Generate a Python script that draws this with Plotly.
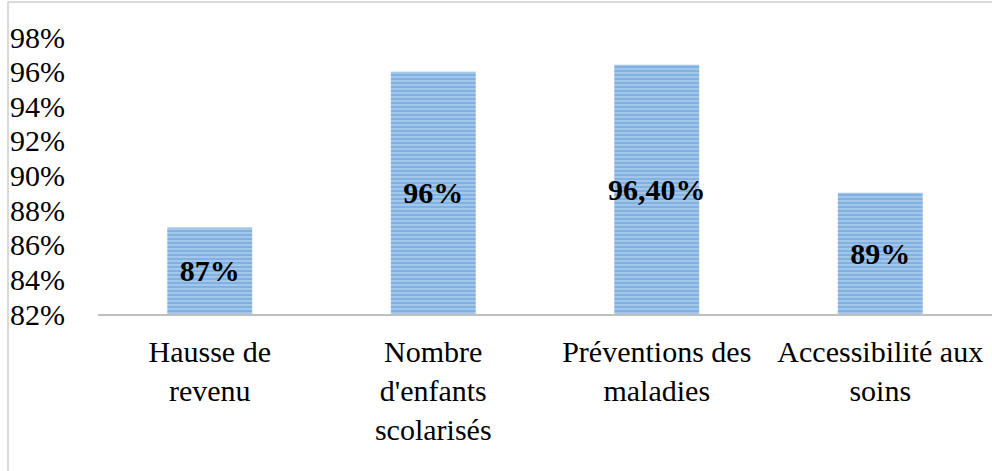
import plotly.graph_objects as go

categories = ["Hausse de<br>revenu", "Nombre<br>d'enfants<br>scolarisés",
              "Préventions des<br>maladies", "Accessibilité aux<br>soins"]
values = [0.87, 0.96, 0.964, 0.89]
labels = ["87%", "96%", "96,40%", "89%"]
axis_min = 0.82
axis_max = 0.98

FONT = "Liberation Serif"
FS = 30

fig = go.Figure(go.Bar(
    x=categories, y=[v - axis_min for v in values], base=axis_min, text=labels,
    textposition="inside", insidetextanchor="middle", textangle=0,
    textfont=dict(family=FONT, size=FS, color="black", weight="bold"),
    insidetextfont=dict(family=FONT, size=FS, color="black", weight="bold"),
    marker=dict(color="#5b9bd5", line=dict(width=0),
                pattern=dict(shape="-", fgcolor="#4f92d6", bgcolor="#b2cfee",
                             size=4, solidity=0.65)),
    cliponaxis=False,
))

fig.update_layout(
    width=992, height=471,
    margin=dict(l=98, r=0, t=37, b=157),
    paper_bgcolor="white", plot_bgcolor="white",
    bargap=0.62,
    showlegend=False,
    uniformtext=dict(minsize=FS, mode="show"),
    font=dict(family=FONT, size=FS, color="black"),
    xaxis=dict(showline=True, linecolor="#bfbfbf", linewidth=2,
               ticks="outside", ticklen=10, tickcolor="rgba(0,0,0,0)",
               tickfont=dict(family=FONT, size=FS, color="black"),
               showgrid=False, zeroline=False),
    yaxis=dict(range=[axis_min, axis_max], dtick=0.02, tick0=axis_min, tickformat=".0%",
               showline=False, showgrid=False, zeroline=False,
               ticks="outside", ticklen=26, tickcolor="rgba(0,0,0,0)",
               tickfont=dict(family=FONT, size=FS, color="black")),
    shapes=[
        dict(type="line", xref="paper", yref="paper",
             x0=(8 - 98) / 894, x1=(8 - 98) / 894, y0=-157 / 277, y1=312 / 277,
             line=dict(color="#d9d9d9", width=2)),
        dict(type="line", xref="paper", yref="paper",
             x0=(8 - 98) / 894, x1=1.0, y0=312 / 277, y1=312 / 277,
             line=dict(color="#d9d9d9", width=2)),
    ],
)

fig.write_html("out.html", config={"displayModeBar": False},
               post_script="document.body.style.margin='0';")
